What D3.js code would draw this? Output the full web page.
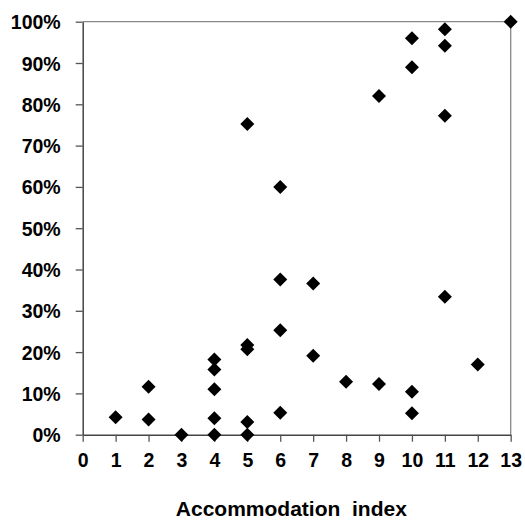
<!DOCTYPE html>
<html><head><meta charset="utf-8">
<script src="https://cdn.jsdelivr.net/npm/d3@7"></script>
<style>body{margin:0;background:#fff;}svg{display:block;}</style>
</head><body>
<svg id="c" width="525" height="521"></svg>
<script>
const xVals = [1,2,2,3,4,4,4,4,4,5,5,5,5,5,6,6,6,6,7,7,8,9,9,10,10,10,10,11,11,11,11,12,13];
const yVals = [4.2,11.6,3.7,0,18.2,15.8,11.0,4.0,0,75.2,21.7,20.7,3.1,0,60.0,37.6,25.3,5.3,36.6,19.1,12.8,82.0,12.3,96.0,89.0,10.4,5.2,98.2,94.2,77.2,33.4,17.0,100];
const xTicks = [0,1,2,3,4,5,6,7,8,9,10,11,12,13];
const yTicks = [0,10,20,30,40,50,60,70,80,90,100];
const xTitle = "Accommodation  index";

const svg = d3.select("#c");
const L = 82.7, R = 510.7, T = 21.7, B = 434.7;
const x = d3.scaleLinear().domain([0,13]).range([L,R]);
const y = d3.scaleLinear().domain([0,100]).range([B,T]);
const font = "'Liberation Sans', Arial, sans-serif";

// frame top/right
svg.append("line").attr("x1",L).attr("x2",R).attr("y1",T).attr("y2",T).attr("stroke","#888").attr("stroke-width",1.3);
svg.append("line").attr("x1",R).attr("x2",R).attr("y1",T).attr("y2",B).attr("stroke","#888").attr("stroke-width",1.3);

const xa = svg.append("g").attr("transform",`translate(0,${B})`)
  .call(d3.axisBottom(x).tickValues(xTicks).tickSize(7).tickSizeOuter(0).tickPadding(11));
const ya = svg.append("g").attr("transform",`translate(${L},0)`)
  .call(d3.axisLeft(y).tickValues(yTicks).tickSize(7).tickSizeOuter(0).tickPadding(15).tickFormat(d=>d+"%"));
[xa,ya].forEach(g=>{
  g.select(".domain").attr("stroke","#444").attr("stroke-width",1.5);
  g.selectAll(".tick line").attr("stroke","#555").attr("stroke-width",1.3);
  g.selectAll("text").attr("font-family",font).attr("font-weight","bold").attr("font-size",19.5).attr("fill","#000");
});
ya.selectAll("text").attr("dy","0.36em");

svg.append("g").selectAll("path").data(xVals.map((d,i)=>[d,yVals[i]])).join("path")
  .attr("d", d3.symbol(d3.symbolSquare, 98))
  .attr("transform", d=>`translate(${x(d[0])},${y(d[1])}) rotate(45)`)
  .attr("fill","#000");

svg.append("text").attr("x",291.3).attr("y",516).attr("text-anchor","middle")
  .attr("font-family",font).attr("font-weight","bold").attr("font-size",21)
  .style("white-space","pre").text(xTitle);
</script>
</body></html>
